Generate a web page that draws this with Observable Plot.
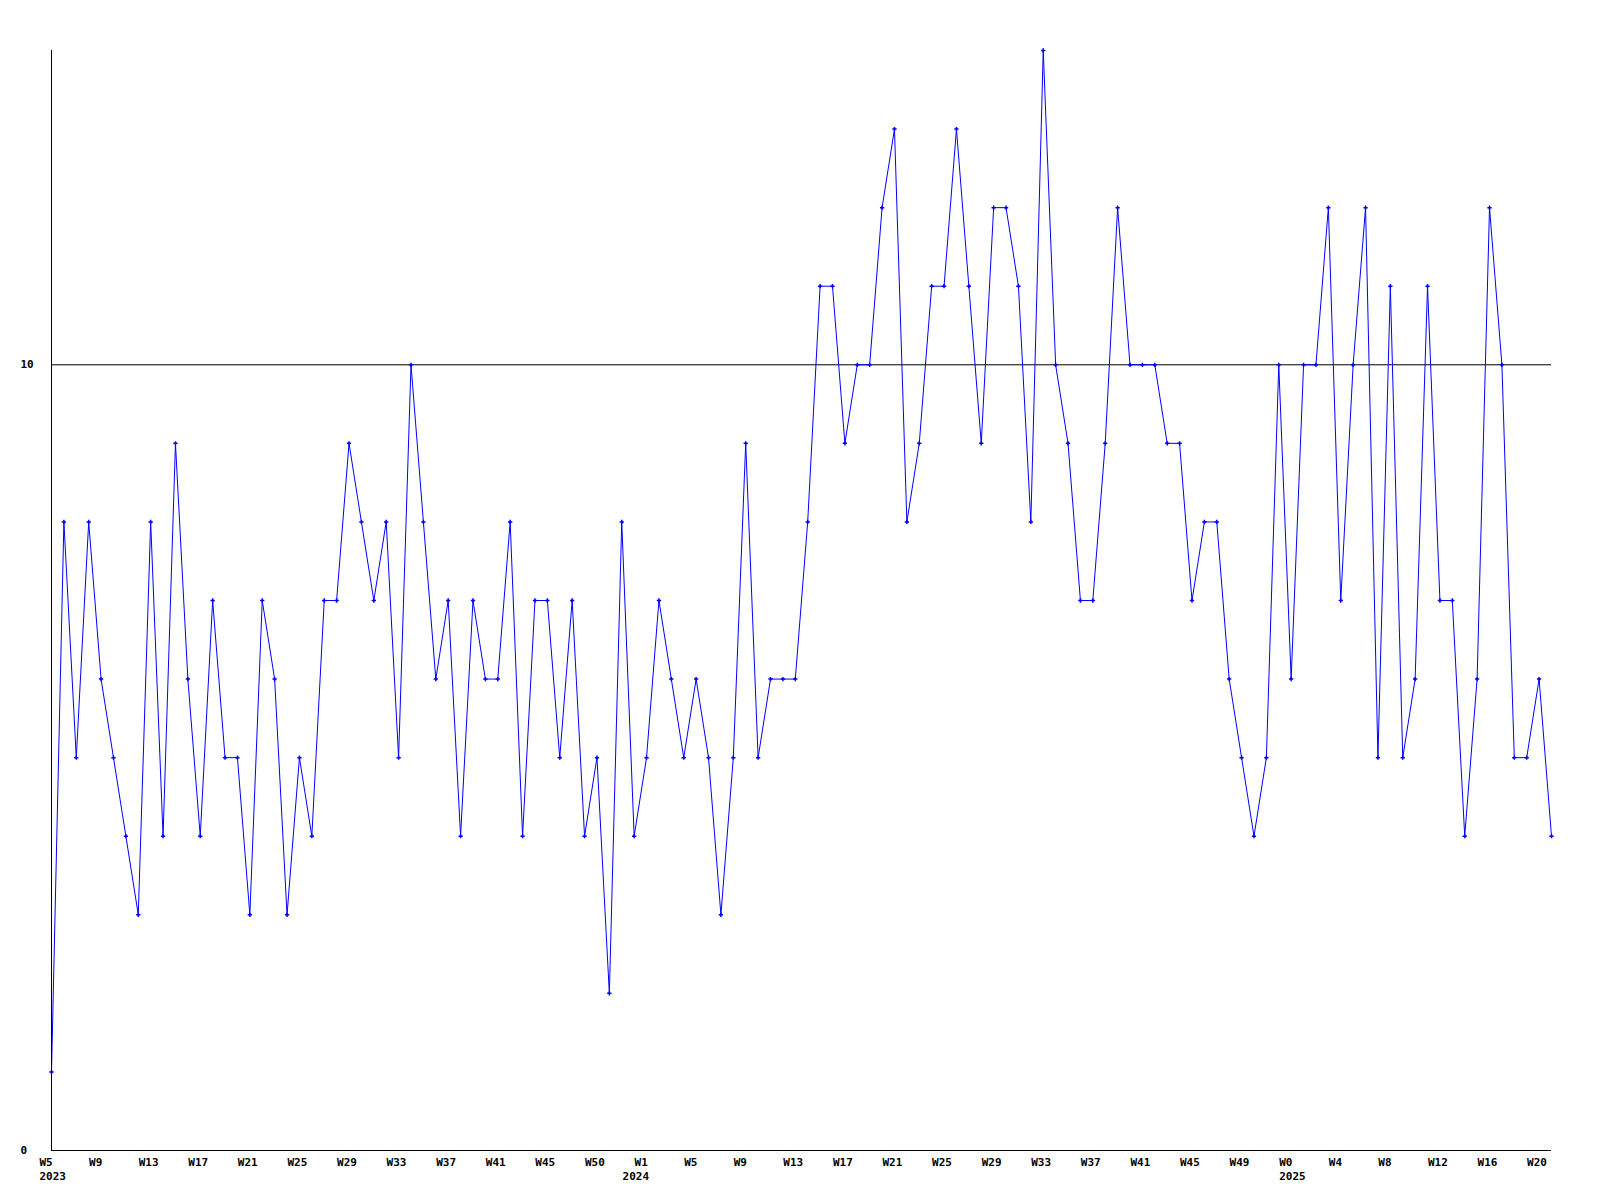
<!DOCTYPE html>
<html><head><meta charset="utf-8">
<script src="https://cdn.jsdelivr.net/npm/d3@7"></script>
<script src="https://cdn.jsdelivr.net/npm/@observablehq/plot@0.6"></script>
<style>body{margin:0;background:#fff;} svg{display:block}</style>
</head><body><div id="chart"></div>
<script>
const values = [1,8,5,8,6,5,4,3,8,4,9,6,4,7,5,5,3,7,6,3,5,4,7,7,9,8,7,8,5,10,
8,6,7,4,7,6,6,8,4,7,7,5,7,4,5,2,8,4,5,7,6,5,6,5,3,5,9,5,6,6,
6,8,11,11,9,10,10,12,13,8,9,11,11,13,11,9,12,12,11,8,14,10,9,7,7,9,12,10,10,10,
9,9,7,8,8,6,5,4,5,10,6,10,10,12,7,10,12,5,11,5,6,11,7,7,4,6,12,10,5,5,6,4];
const weekTicks = ["W5","W9","W13","W17","W21","W25","W29","W33","W37","W41","W45","W50",
"W1","W5","W9","W13","W17","W21","W25","W29","W33","W37","W41","W45","W49",
"W0","W4","W8","W12","W16","W20"];
const yearTicks = ["2023","2024","2025"];
const yearTickSlots = [0, 12, 25];
const yTicks = [0, 10];

const data = values.map((v, i) => ({i, v}));
const tickPos = weekTicks.map((_, k) => k * 4);
const yearPos = yearTickSlots.map(k => tickPos[k]);
const yearFmt = d => yearTicks[yearPos.indexOf(d)];

const chart = Plot.plot({
  width: 1600, height: 1200,
  marginLeft: 51, marginRight: 49, marginTop: 50, marginBottom: 50,
  style: {fontFamily: "'DejaVu Sans Mono', monospace", fontSize: "11px", fontWeight: "bold", background: "#fff", color: "#000"},
  x: {domain: [0, values.length - 1]},
  y: {domain: [0, 14]},
  marks: [
    Plot.ruleY([10], {stroke: "#000", strokeWidth: 1}),
    Plot.line(data, {x: "i", y: "v", stroke: "#0000ff", strokeWidth: 1}),
    Plot.dot(data, {x: "i", y: "v", symbol: "plus", r: 1.5, stroke: "#0000ff", strokeWidth: 1.5}),
    Plot.ruleY([0], {stroke: "#000", strokeWidth: 1}),
    Plot.ruleX([0], {stroke: "#000", strokeWidth: 1}),
    Plot.axisY({ticks: yTicks, tickSize: 0, tickPadding: 0, textAnchor: "start", dx: -31, label: null, fill: "#000"}),
    Plot.axisX({ticks: tickPos, tickFormat: d => weekTicks[tickPos.indexOf(d)], tickSize: 0, tickPadding: 8, textAnchor: "start", dx: -12, label: null, fill: "#000"}),
    Plot.axisX({ticks: [yearPos[0], yearPos[2]], tickFormat: yearFmt, tickSize: 0, tickPadding: 8, textAnchor: "start", dx: -12, dy: 14, label: null, fill: "#000"}),
    Plot.axisX({ticks: [yearPos[1]], tickFormat: yearFmt, tickSize: 0, tickPadding: 8, textAnchor: "start", dx: -24, dy: 14, label: null, fill: "#000"})
  ]
});
document.getElementById("chart").appendChild(chart);
</script>
</body></html>
